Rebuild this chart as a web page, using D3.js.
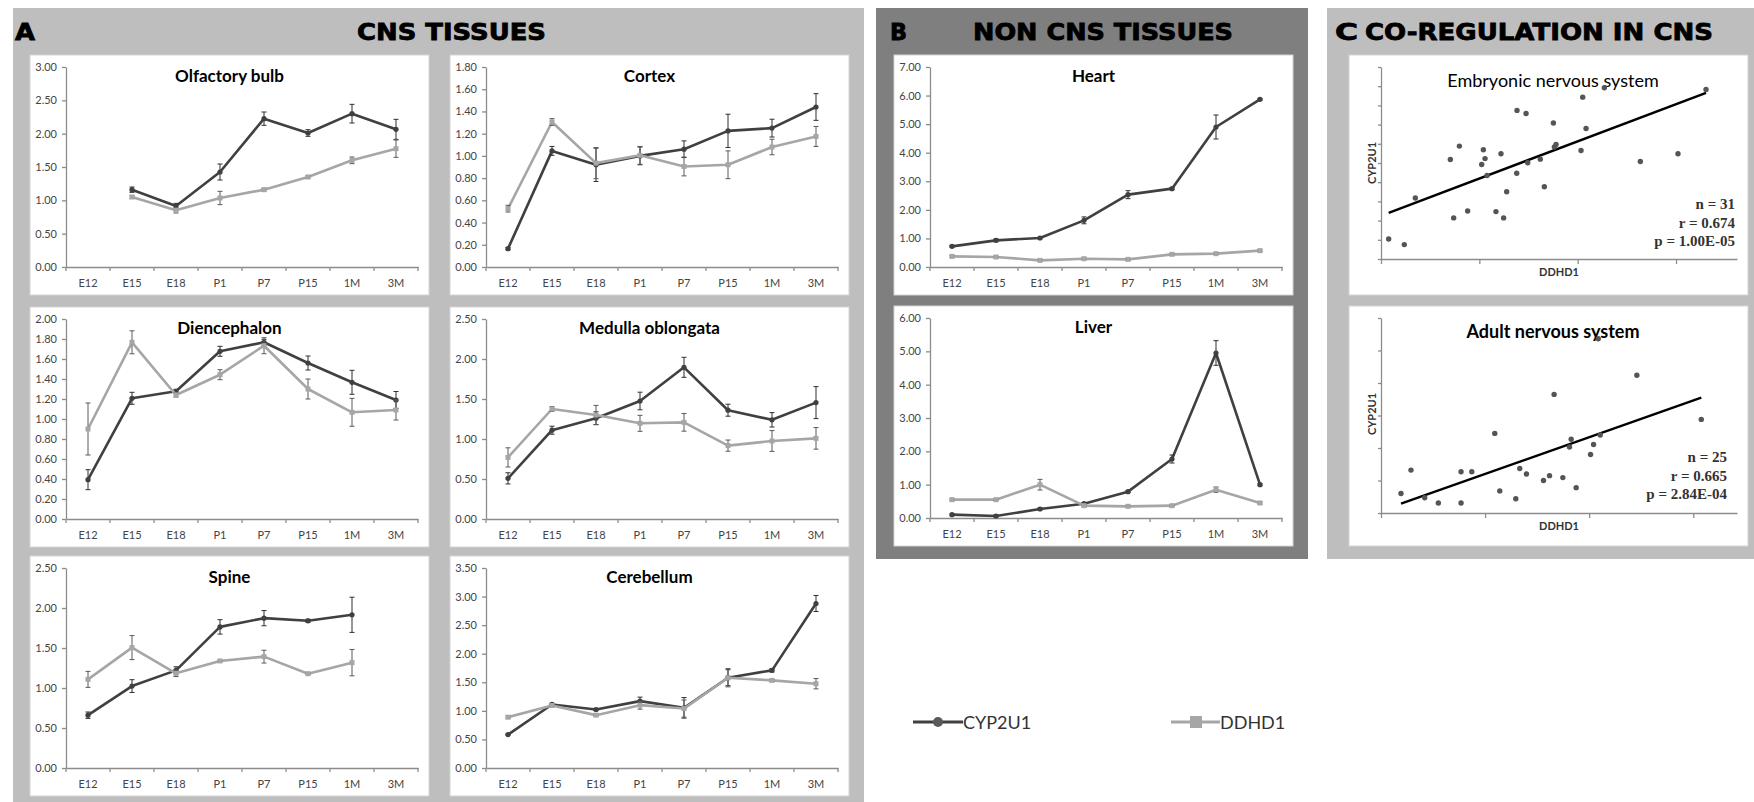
<!DOCTYPE html>
<html>
<head>
<meta charset="utf-8">
<script src="https://cdn.jsdelivr.net/npm/d3@7"></script>
<style>
  html, body { margin: 0; padding: 0; background: #fff; }
  svg { display: block; }
</style>
</head>
<body>
<script>
// Developmental stages shared by all time-course charts
const categories = ["E12", "E15", "E18", "P1", "P7", "P15", "1M", "3M"];
const seriesNames = ["CYP2U1", "DDHD1"];

// Relative expression (mean) and error per stage; null = not measured
const olfCyp    = [null, 1.16, 0.915, 1.425, 2.225, 2.01, 2.30, 2.065];
const olfCypErr = [null, 0.04, 0.04, 0.12, 0.10, 0.05, 0.14, 0.15];
const olfDd     = [null, 1.05, 0.85, 1.035, 1.16, 1.35, 1.60, 1.775];
const olfDdErr  = [null, 0.02, 0.04, 0.10, 0.02, 0.02, 0.05, 0.13];

const ctxCyp    = [0.165, 1.045, 0.92, 1.00, 1.06, 1.225, 1.25, 1.44];
const ctxCypErr = [0.01, 0.04, 0.15, 0.08, 0.075, 0.15, 0.08, 0.12];
const ctxDd     = [0.525, 1.305, 0.935, 1.005, 0.905, 0.92, 1.08, 1.175];
const ctxDdErr  = [0.03, 0.03, 0.14, 0.08, 0.085, 0.125, 0.07, 0.09];

const dieCyp    = [0.393, 1.207, 1.277, 1.677, 1.767, 1.56, 1.367, 1.19];
const dieCypErr = [0.10, 0.06, 0.02, 0.05, 0.03, 0.07, 0.12, 0.085];
const dieDd     = [0.90, 1.767, 1.24, 1.443, 1.733, 1.30, 1.067, 1.09];
const dieDdErr  = [0.26, 0.115, 0.02, 0.05, 0.08, 0.10, 0.14, 0.10];

const medCyp    = [0.508, 1.11, 1.26, 1.475, 1.896, 1.36, 1.24, 1.455];
const medCypErr = [0.07, 0.05, 0.08, 0.11, 0.125, 0.075, 0.09, 0.20];
const medDd     = [0.77, 1.375, 1.30, 1.196, 1.208, 0.917, 0.975, 1.008];
const medDdErr  = [0.12, 0.03, 0.12, 0.10, 0.11, 0.07, 0.13, 0.135];

const spiCyp    = [0.66, 1.024, 1.22, 1.764, 1.873, 1.84, 1.915, null];
const spiCypErr = [0.04, 0.08, 0.045, 0.09, 0.095, 0.02, 0.22, null];
const spiDd     = [1.108, 1.505, 1.183, 1.338, 1.392, 1.179, 1.317, null];
const spiDdErr  = [0.10, 0.15, 0.04, 0.01, 0.08, 0.01, 0.165, null];

const cerCyp    = [0.585, 1.112, 1.024, 1.17, 1.053, 1.58, 1.709, 2.879];
const cerCypErr = [0.01, 0.02, 0.02, 0.07, 0.18, 0.14, 0.03, 0.14];
const cerDd     = [0.889, 1.094, 0.925, 1.10, 1.04, 1.58, 1.533, 1.475];
const cerDdErr  = [0.02, 0.02, 0.02, 0.07, 0.15, 0.16, 0.02, 0.09];

const hrtCyp    = [0.723, 0.933, 1.015, 1.633, 2.532, 2.742, 4.90, 5.869];
const hrtCypErr = [0.03, 0.05, 0.03, 0.12, 0.14, 0.04, 0.42, 0.03];
const hrtDd     = [0.373, 0.35, 0.233, 0.29, 0.268, 0.443, 0.467, 0.572];
const hrtDdErr  = [0.03, 0.03, 0.03, 0.03, 0.03, 0.03, 0.03, 0.03];

const livCyp    = [0.10, 0.06, 0.27, 0.43, 0.79, 1.77, 4.95, 1.00];
const livCypErr = [0.03, 0.03, 0.03, 0.03, 0.03, 0.12, 0.37, 0.03];
const livDd     = [0.55, 0.55, 1.00, 0.37, 0.35, 0.37, 0.85, 0.45];
const livDdErr  = [0.03, 0.03, 0.16, 0.03, 0.03, 0.03, 0.08, 0.03];

// Co-regulation scatter: DDHD1 (x) vs CYP2U1 (y), arbitrary units
const embX = [0.078, 0.237, 0.349, 0.705, 0.739, 0.797, 0.881, 1.024, 1.041, 1.058, 1.078,
              1.169, 1.220, 1.247, 1.278, 1.380, 1.383, 1.475, 1.492, 1.620, 1.661, 1.753,
              1.763, 1.780, 2.034, 2.051, 2.085, 2.271, 2.637, 3.020, 3.305];
const embY = [1.04, 0.75, 3.18, 5.18, 2.14, 5.88, 2.50, 4.92, 5.69, 5.23, 4.35,
              2.47, 5.48, 2.14, 3.50, 4.47, 7.74, 7.58, 5.01, 5.20, 3.76, 7.08,
              5.83, 5.97, 5.65, 8.43, 6.80, 8.92, 5.08, 5.48, 8.83];
const embStats = ["n = 31", "r = 0.674", "p = 1.00E-05"];

const adX = [0.192, 0.288, 0.420, 0.551, 0.769, 0.769, 0.872, 1.093, 1.141, 1.295, 1.333,
             1.397, 1.561, 1.619, 1.663, 1.747, 1.811, 1.827, 1.875, 2.013, 2.042, 2.087,
             2.106, 2.458, 3.077];
const adY = [0.60, 1.32, 0.47, 0.31, 1.27, 0.31, 1.27, 2.45, 0.68, 0.44, 1.37,
             1.20, 1.00, 1.15, 3.65, 1.09, 2.03, 2.27, 0.78, 1.80, 2.11, 5.36,
             2.40, 4.24, 2.88];
const adStats = ["n = 25", "r = 0.665", "p = 2.84E-04"];

const CYP_COLOR = "#404040";
const DD_COLOR = "#a6a6a6";
const AXIS_COLOR = "#8c8c8c";
const LABEL_FONT = "Lato, 'Open Sans', 'Liberation Sans', sans-serif";

const svg = d3.select("body").append("svg")
  .attr("width", 1754).attr("height", 802);

svg.append("rect").attr("width", 1754).attr("height", 802).attr("fill", "#fff");

// Section backgrounds
svg.append("rect").attr("x", 13).attr("y", 8).attr("width", 851).attr("height", 794).attr("fill", "#bebebe");
svg.append("rect").attr("x", 876).attr("y", 8).attr("width", 432).attr("height", 551).attr("fill", "#7f7f7f");
svg.append("rect").attr("x", 1327).attr("y", 8).attr("width", 427).attr("height", 551).attr("fill", "#bebebe");

// Section headings
function heading(x, text, len) {
  svg.append("text")
    .attr("x", x).attr("y", 40)
    .attr("font-family", "'DejaVu Sans', 'Liberation Sans', sans-serif")
    .attr("font-weight", "bold")
    .attr("font-size", 23)
    .attr("fill", "#000").attr("stroke", "#000").attr("stroke-width", 0.8)
    .attr("textLength", len).attr("lengthAdjust", "spacingAndGlyphs")
    .text(text);
}
heading(15, "A", 20);
heading(357, "CNS TISSUES", 189);
heading(890, "B", 17);
heading(973, "NON CNS TISSUES", 260);
heading(1335, "C", 23);
heading(1365, "CO-REGULATION IN CNS", 348);

const W = 399, H = 240;

function lineChart(bx, by, title, yMax, yStep, cyp, cypErr, dd, ddErr) {
  const g = svg.append("g").attr("transform", `translate(${bx},${by})`);
  g.append("rect").attr("width", W).attr("height", H)
    .attr("fill", "#fff").attr("stroke", "#d4d4d4").attr("stroke-width", 1);

  const x = d3.scaleBand().domain(categories).range([36, 388]);
  const y = d3.scaleLinear().domain([0, yMax]).range([212, 12]);

  // Value axis
  const ticks = d3.range(0, yMax + 1e-9, yStep);
  const ya = g.append("g").attr("transform", "translate(36,0)")
    .call(d3.axisLeft(y).tickValues(ticks).tickFormat(d3.format(".2f"))
      .tickSize(4).tickSizeOuter(0).tickPadding(5));
  ya.select(".domain").attr("stroke", AXIS_COLOR).attr("stroke-width", 1.3);
  ya.selectAll(".tick line").attr("stroke", AXIS_COLOR).attr("stroke-width", 1.3);
  ya.selectAll(".tick text").attr("font-family", LABEL_FONT).attr("font-size", 11).attr("fill", "#444");

  // Category axis: labels at band centres, ticks at band edges
  const xa = g.append("g").attr("transform", "translate(0,212)")
    .call(d3.axisBottom(x).tickSize(0).tickPadding(12));
  xa.select(".domain").attr("stroke", AXIS_COLOR).attr("stroke-width", 1.3);
  xa.selectAll(".tick text").attr("font-family", LABEL_FONT).attr("font-size", 11).attr("fill", "#444");
  const edges = categories.map(c => x(c)).concat([x.range()[1]]);
  g.append("g").selectAll("line").data(edges).join("line")
    .attr("x1", d => d).attr("x2", d => d)
    .attr("y1", 212).attr("y2", 216)
    .attr("stroke", AXIS_COLOR).attr("stroke-width", 1.3);

  g.append("text").attr("x", W / 2).attr("y", 27)
    .attr("text-anchor", "middle")
    .attr("font-family", LABEL_FONT).attr("font-weight", "bold").attr("font-size", 17)
    .attr("fill", "#000").text(title);

  const cx = c => x(c) + x.bandwidth() / 2;

  function series(vals, errs, color, errColor, marker) {
    const pts = categories.map((c, i) => ({ c, v: vals[i], e: errs[i] }));
    const line = d3.line().defined(d => d.v != null).x(d => cx(d.c)).y(d => y(d.v));
    g.append("path").datum(pts).attr("d", line)
      .attr("fill", "none").attr("stroke", color).attr("stroke-width", 2.6)
      .attr("stroke-linejoin", "round");
    const valid = pts.filter(d => d.v != null);
    const eb = g.append("g").attr("stroke", errColor).attr("stroke-width", 1);
    valid.forEach(d => {
      const x0 = cx(d.c), y1 = y(d.v + d.e), y2 = y(Math.max(0, d.v - d.e));
      eb.append("line").attr("x1", x0).attr("x2", x0).attr("y1", y1).attr("y2", y2);
      eb.append("line").attr("x1", x0 - 2.5).attr("x2", x0 + 2.5).attr("y1", y1).attr("y2", y1);
      eb.append("line").attr("x1", x0 - 2.5).attr("x2", x0 + 2.5).attr("y1", y2).attr("y2", y2);
    });
    if (marker === "circle") {
      g.append("g").selectAll("circle").data(valid).join("circle")
        .attr("cx", d => cx(d.c)).attr("cy", d => y(d.v)).attr("r", 2.6).attr("fill", color);
    } else {
      g.append("g").selectAll("rect").data(valid).join("rect")
        .attr("x", d => cx(d.c) - 2.5).attr("y", d => y(d.v) - 2.5)
        .attr("width", 5).attr("height", 5).attr("fill", color);
    }
  }
  series(cyp, cypErr, CYP_COLOR, "#2f2f2f", "circle");
  series(dd, ddErr, DD_COLOR, "#5a5a5a", "square");
}

lineChart(30, 55, "Olfactory bulb", 3, 0.5, olfCyp, olfCypErr, olfDd, olfDdErr);
lineChart(450, 55, "Cortex", 1.8, 0.2, ctxCyp, ctxCypErr, ctxDd, ctxDdErr);
lineChart(30, 307, "Diencephalon", 2, 0.2, dieCyp, dieCypErr, dieDd, dieDdErr);
lineChart(450, 307, "Medulla oblongata", 2.5, 0.5, medCyp, medCypErr, medDd, medDdErr);
lineChart(30, 556, "Spine", 2.5, 0.5, spiCyp, spiCypErr, spiDd, spiDdErr);
lineChart(450, 556, "Cerebellum", 3.5, 0.5, cerCyp, cerCypErr, cerDd, cerDdErr);
lineChart(894, 55, "Heart", 7, 1, hrtCyp, hrtCypErr, hrtDd, hrtDdErr);
lineChart(894, 306, "Liver", 6, 1, livCyp, livCypErr, livDd, livDdErr);

function scatter(bx, by, title, bold, xs, ys, xMax, yMax, bottom, stats, statsX, statsY) {
  const g = svg.append("g").attr("transform", `translate(${bx},${by})`);
  g.append("rect").attr("width", W).attr("height", H)
    .attr("fill", "#fff").attr("stroke", "#d4d4d4").attr("stroke-width", 1);

  const x = d3.scaleLinear().domain([0, xMax]).range([32, 388]);
  const y = d3.scaleLinear().domain([0, yMax]).range([bottom, 12]);

  const ya = g.append("g").attr("transform", "translate(32,0)")
    .call(d3.axisLeft(y).tickValues(d3.range(0, yMax + 1e-9, 1)).tickFormat("")
      .tickSize(3).tickSizeOuter(0));
  ya.select(".domain").attr("stroke", AXIS_COLOR).attr("stroke-width", 1.3);
  ya.selectAll(".tick line").attr("stroke", AXIS_COLOR).attr("stroke-width", 1.3);

  const xa = g.append("g").attr("transform", `translate(0,${bottom})`)
    .call(d3.axisBottom(x).tickValues(d3.range(0, Math.floor(xMax) + 1, 1)).tickFormat("")
      .tickSize(5).tickSizeOuter(0));
  xa.select(".domain").attr("stroke", AXIS_COLOR).attr("stroke-width", 1.3);
  xa.selectAll(".tick line").attr("stroke", AXIS_COLOR).attr("stroke-width", 1.3);

  g.append("text").attr("x", 204).attr("y", 32)
    .attr("text-anchor", "middle")
    .attr("font-family", LABEL_FONT).attr("font-weight", bold ? "bold" : "normal")
    .attr("font-size", 18).attr("fill", "#000").text(title);

  g.append("text")
    .attr("transform", "translate(27,108) rotate(-90)")
    .attr("text-anchor", "middle")
    .attr("font-family", LABEL_FONT).attr("font-weight", "bold").attr("font-size", 11)
    .attr("fill", "#333").text(seriesNames[0]);
  g.append("text").attr("x", 210).attr("y", bottom + 17)
    .attr("text-anchor", "middle")
    .attr("font-family", LABEL_FONT).attr("font-weight", "bold").attr("font-size", 11)
    .attr("fill", "#333").text(seriesNames[1]);

  // Least-squares trend line over the data range
  const mx = d3.mean(xs), my = d3.mean(ys);
  let sxy = 0, sxx = 0;
  xs.forEach((v, i) => { sxy += (v - mx) * (ys[i] - my); sxx += (v - mx) * (v - mx); });
  const slope = sxy / sxx, icpt = my - slope * mx;
  const [x0, x1] = d3.extent(xs);
  g.append("line")
    .attr("x1", x(x0)).attr("y1", y(icpt + slope * x0))
    .attr("x2", x(x1)).attr("y2", y(icpt + slope * x1))
    .attr("stroke", "#000").attr("stroke-width", 2.4);

  g.append("g").selectAll("circle").data(xs).join("circle")
    .attr("cx", d => x(d)).attr("cy", (d, i) => y(ys[i]))
    .attr("r", 2.7).attr("fill", "#555");

  g.append("g").selectAll("text").data(stats).join("text")
    .attr("x", statsX).attr("y", (d, i) => statsY + i * 18.5)
    .attr("text-anchor", "end")
    .attr("font-family", "'Liberation Serif', 'Times New Roman', serif")
    .attr("font-weight", "bold").attr("font-size", 15).attr("fill", "#333")
    .text(d => d);
}

scatter(1349, 55, "Embryonic nervous system", false, embX, embY, 3.62, 10, 204, embStats, 386, 154);
scatter(1349, 306, "Adult nervous system", true, adX, adY, 3.42, 6, 207, adStats, 378, 156);

// Legend
const legend = svg.append("g").attr("font-family", LABEL_FONT).attr("font-size", 18).attr("fill", "#333");
legend.append("line").attr("x1", 913).attr("x2", 963).attr("y1", 722).attr("y2", 722)
  .attr("stroke", CYP_COLOR).attr("stroke-width", 3);
legend.append("circle").attr("cx", 938).attr("cy", 722).attr("r", 5).attr("fill", "#5a5a5a");
legend.append("text").attr("x", 963).attr("y", 729).text(seriesNames[0]);
legend.append("line").attr("x1", 1171).attr("x2", 1220).attr("y1", 722).attr("y2", 722)
  .attr("stroke", DD_COLOR).attr("stroke-width", 3);
legend.append("rect").attr("x", 1190).attr("y", 716).attr("width", 12).attr("height", 12).attr("fill", DD_COLOR);
legend.append("text").attr("x", 1220).attr("y", 729).text(seriesNames[1]);
</script>
</body>
</html>
